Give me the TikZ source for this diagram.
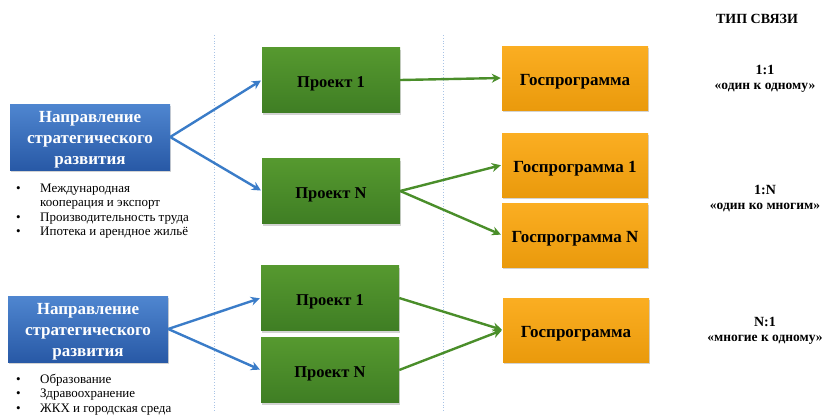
\documentclass[tikz,border=0pt]{standalone}
\usepackage{fontspec}
\setmainfont{Liberation Serif}
\usetikzlibrary{arrows.meta,shadows}
\definecolor{bxblueT}{HTML}{4F86D0}
\definecolor{bxblueB}{HTML}{2859A6}
\definecolor{bxgreenT}{HTML}{56992F}
\definecolor{bxgreenB}{HTML}{3F7E24}
\definecolor{bxorT}{HTML}{FBAE22}
\definecolor{bxorB}{HTML}{EA9A0C}
\definecolor{arblue}{HTML}{3A7CC8}
\definecolor{argreen}{HTML}{4A8E2A}
\definecolor{sepline}{HTML}{A9C4E6}
\tikzset{
  boxbase/.style={inner sep=0pt, drop shadow={shadow xshift=1pt, shadow yshift=-2pt, opacity=0.35}},
  bluebox/.style={boxbase, top color=bxblueT, bottom color=bxblueB, minimum width=160pt, minimum height=66pt},
  greenbox/.style={boxbase, top color=bxgreenT, bottom color=bxgreenB, minimum width=138pt, minimum height=65pt},
  orbox/.style={boxbase, top color=bxorT, bottom color=bxorB, minimum width=146pt, minimum height=64pt},
  bluetext/.style={inner sep=0pt, align=center, text=white, font=\bfseries\fontsize{17}{21}\selectfont},
  greentext/.style={inner sep=0pt, align=center, text=black, font=\bfseries\fontsize{16.5}{19}\selectfont},
  ortext/.style={inner sep=0pt, align=center, text=black, font=\bfseries\fontsize{17}{19}\selectfont},
  bluearrow/.style={draw=arblue, line width=2.4pt, shorten >=1pt, -{Stealth[length=9pt,width=9pt]}},
  greenarrow/.style={draw=argreen, line width=2.4pt, shorten >=1pt, -{Stealth[length=9pt,width=9pt]}},
  bulletlist/.style={anchor=north west, inner sep=0pt, font=\fontsize{13}{14.5}\selectfont},
  typetitle/.style={font=\bfseries\fontsize{14}{16}\selectfont},
  typequote/.style={font=\bfseries\fontsize{13.5}{15}\selectfont},
}
\begin{document}
\begin{tikzpicture}[x=1pt,y=-1pt]
\useasboundingbox (0,0) rectangle (823,418);
% separators
\draw[sepline, dotted, line width=0.8pt] (214,35) -- (214,412);
\draw[sepline, dotted, line width=0.8pt] (443,35) -- (443,412);
% blue boxes
\node[bluebox] (d1) at (90,137) {};
\node[bluetext] (d1t) at ([yshift=-2.5pt]d1.center) {Направление\\стратегического\\развития};
\node[bluebox] (d2) at (88,329) {};
\node[bluetext] (d2t) at ([yshift=-2.5pt]d2.center) {Направление\\стратегического\\развития};
% bullet lists
\node[bulletlist] (l1) at (16,182) {\begin{tabular}{@{}p{24pt}@{}l@{}}
\textbullet & Международная\\ & кооперация и экспорт\\ \textbullet & Производительность труда\\ \textbullet & Ипотека и арендное жильё\end{tabular}};
\node[bulletlist] (l2) at (16,373) {\begin{tabular}{@{}p{24pt}@{}l@{}}
\textbullet & Образование\\ \textbullet & Здравоохранение\\ \textbullet & ЖКХ и городская среда\end{tabular}};
% green boxes
\node[greenbox] (p1) at (331,80) {};
\node[greentext] (p1t) at ([yshift=-3.5pt]p1.center) {Проект 1};
\node[greenbox] (pn) at (331,191) {};
\node[greentext] (pnt) at ([yshift=-3.5pt]pn.center) {Проект N};
\node[greenbox] (q1) at (330,298) {};
\node[greentext] (q1t) at ([yshift=-3.5pt]q1.center) {Проект 1};
\node[greenbox] (qn) at (330,370) {};
\node[greentext] (qnt) at ([yshift=-3.5pt]qn.center) {Проект N};
% orange boxes
\node[orbox] (g) at (575,78) {};
\node[ortext] (gt) at ([yshift=-3.5pt]g.center) {Госпрограмма};
\node[orbox] (g1) at (575,165) {};
\node[ortext] (g1t) at ([yshift=-3.5pt]g1.center) {Госпрограмма 1};
\node[orbox] (gn) at (575,235) {};
\node[ortext] (gnt) at ([yshift=-3.5pt]gn.center) {Госпрограмма N};
\node[orbox] (h) at (576,330) {};
\node[ortext] (ht) at ([yshift=-3.5pt]h.center) {Госпрограмма};
% arrows
\draw[bluearrow] (d1.east) -- (p1.west);
\draw[bluearrow] (d1.east) -- (pn.west);
\draw[bluearrow] (d2.east) -- (q1.west);
\draw[bluearrow] (d2.east) -- (qn.west);
\draw[greenarrow] (p1.east) -- (g.west);
\draw[greenarrow] (pn.east) -- (g1.west);
\draw[greenarrow] (pn.east) -- (gn.west);
\draw[greenarrow] (q1.east) -- (h.west);
\draw[greenarrow] (qn.east) -- (h.west);
% type labels
\node[typetitle] (t0) at (757,19) {ТИП СВЯЗИ};
\node[typetitle] (t1) at (765,70) {1:1};
\node[typequote] (t1q) at (765,88) {«один к одному»};
\node[typetitle] (t2) at (765,190) {1:N};
\node[typequote] (t2q) at (765,207) {«один ко многим»};
\node[typetitle] (t3) at (765,322) {N:1};
\node[typequote] (t3q) at (765,340) {«многие к одному»};
\end{tikzpicture}
\end{document}
